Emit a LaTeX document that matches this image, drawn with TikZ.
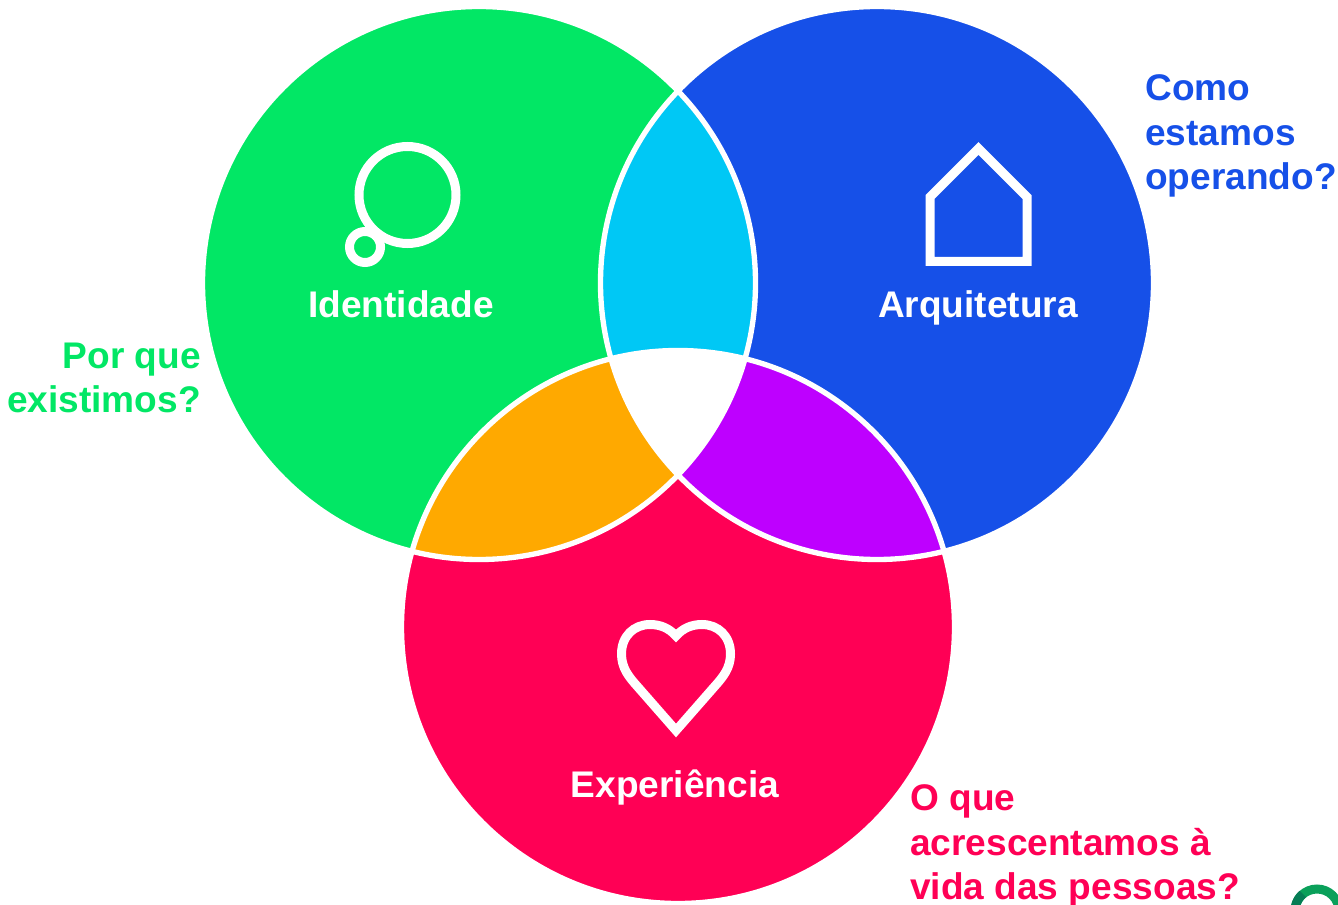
\documentclass[tikz,border=0pt]{standalone}
\usepackage{fontspec}
\setmainfont{Liberation Sans}
\usepackage{xcolor}
\definecolor{verde}{HTML}{02E765}
\definecolor{azul}{HTML}{1650E8}
\definecolor{rosa}{HTML}{FF0055}
\definecolor{ciano}{HTML}{00C8F5}
\definecolor{laranja}{HTML}{FFA900}
\definecolor{roxo}{HTML}{BE00FF}
\definecolor{anel}{HTML}{0AA05A}
\definecolor{anelsombra}{HTML}{067D55}

\begin{document}
\begin{tikzpicture}[x=0.75pt, y=-0.75pt]
          \tikzstyle{titulo} = [text=white, font=\fontsize{27.8}{33}\selectfont\bfseries, anchor=base]
          \tikzstyle{pergunta} = [font=\fontsize{27.8}{33.4}\selectfont\bfseries, inner sep=0pt]
          \tikzstyle{icone} = [draw=white, line width=6.75pt, miter limit=10]
          \tikzstyle{borda} = [draw=white, line width=4pt]

          \useasboundingbox (0,0) rectangle (1338,905);
          \clip (0,0) rectangle (1338,905);
          \def\raio{276.5}

          % Centros
          \coordinate (ident) at (479,283);
          \coordinate (arq) at (877,283);
          \coordinate (exper) at (678,627);

          % Circulos
          \foreach \centro/\cor in {ident/verde, arq/azul, exper/rosa}
            \fill[\cor] (\centro) circle (\raio);

          % Intersecoes
          \foreach \ca/\cb/\cor in {ident/arq/ciano, ident/exper/laranja, arq/exper/roxo} {
            \begin{scope}
              \clip (\ca) circle (\raio);
              \fill[\cor] (\cb) circle (\raio);
            \end{scope}
          }

          % Centro branco
          \begin{scope}
            \clip (ident) circle (\raio);
            \clip (arq) circle (\raio);
            \fill[white] (exper) circle (\raio);
          \end{scope}

          % Bordas
          \foreach \centro in {ident, arq, exper}
            \draw[borda] (\centro) circle (\raio);

          % Icones
          \draw[icone] (407.5,195) circle (48.5);
          \draw[icone] (365,247) circle (15.5);
          \draw[icone] (978.5,148.5) -- (1027,197) -- (1027,261.5) -- (930,261.5) -- (930,197) -- cycle;
          \draw[icone] (676,730.5) -- (637,686) .. controls (629,677) and (621.5,668) .. (621.5,654)
            .. controls (621.5,636) and (634,624.5) .. (650,624.5)
            .. controls (660,624.5) and (669,628) .. (676,636)
            .. controls (683,628) and (692,624.5) .. (702,624.5)
            .. controls (718,624.5) and (730.5,636) .. (730.5,654)
            .. controls (730.5,668) and (723,677) .. (715,686) -- cycle;

          % Anel do canto
          \draw[anel, line width=6.75pt] (1317,911) circle (22);
          \draw[anelsombra, line width=6.75pt] (1295.3,907) arc (190:230:22);

          % Titulos
          \node[titulo] (tidentidade) at (401,318) {Identidade};
          \node[titulo] (tarquitetura) at (978,318) {Arquitetura};
          \node[titulo] (texperiencia) at (675,797) {Experiência};

          % Perguntas
          \node[pergunta, text=azul, align=left, anchor=west] (pcomo) at (1145,136) {Como\\estamos\\operando?};
          \node[pergunta, text=verde, align=right, anchor=east] (ppor) at (201,378) {Por que\\existimos?};
          \node[pergunta, text=rosa, align=left, anchor=west] (pque) at (910,846) {O que\\acrescentamos à\\vida das pessoas?};
        \end{tikzpicture}
\end{document}
